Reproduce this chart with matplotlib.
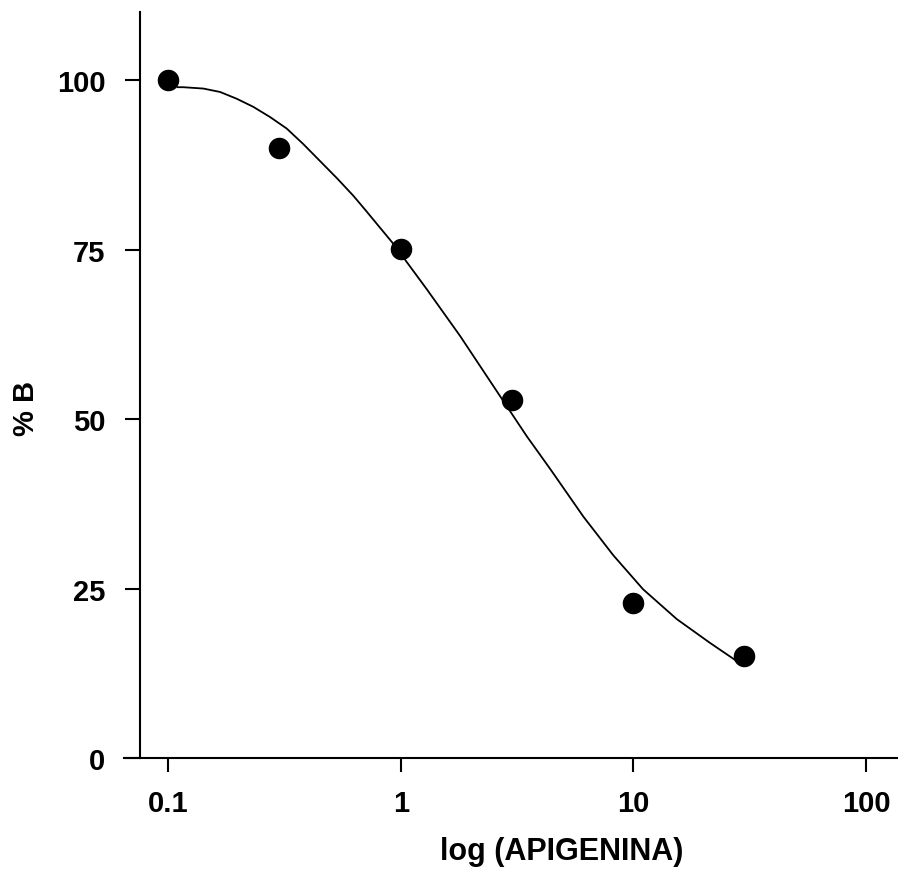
import matplotlib
matplotlib.use("Agg")
import matplotlib.pyplot as plt
from matplotlib.ticker import FixedLocator, FixedFormatter, NullLocator

# measured points
conc = [0.1, 0.3, 1, 3, 10, 30]
pct_b = [100.0, 90.0, 75.1, 52.9, 22.9, 15.0]

# fitted curve
curve_x = [0.110, 0.1164, 0.1419, 0.1673, 0.1973, 0.2326, 0.2744, 0.3236,
           0.3815, 0.450, 0.531, 0.625, 0.70, 0.929, 1.293, 1.798, 2.50,
           3.478, 4.4, 6.1, 8.2, 11.0, 15.35, 21.3, 27.8, 30.0]
curve_y = [99.0, 99.0, 98.8, 98.3, 97.3, 96.1, 94.6, 92.9,
           90.6, 88.1, 85.6, 83.0, 81.0, 75.9, 69.2, 62.3, 54.9,
           47.5, 42.6, 35.6, 29.9, 24.9, 20.5, 17.0, 14.3, 14.0]

xticks = [0.1, 1, 10, 100]
xtick_labels = ["0.1", "1", "10", "100"]
yticks = [0, 25, 50, 75, 100]
ytick_labels = ["0", "25", "50", "75", "100"]

plt.rcParams["font.family"] = ["Liberation Sans", "DejaVu Sans"]

fig = plt.figure(figsize=(8.98, 8.78), dpi=100)
ax = fig.add_axes([124 / 898, 119 / 878, 774 / 898, 746 / 878])

ax.plot(curve_x, curve_y, color="black", lw=1.3, zorder=2)
ax.plot(conc, pct_b, "o", color="black", ms=14.5, zorder=3)

ax.set_xscale("log")
ax.set_xlim(0.0647, 137)
ax.set_ylim(0, 110.1)

ax.spines["top"].set_visible(False)
ax.spines["right"].set_visible(False)
ax.spines["left"].set_position(("data", 0.0758))
for s in ("left", "bottom"):
    ax.spines[s].set_linewidth(1.5)

ax.xaxis.set_major_locator(FixedLocator(xticks))
ax.xaxis.set_major_formatter(FixedFormatter(xtick_labels))
ax.xaxis.set_minor_locator(NullLocator())
ax.yaxis.set_major_locator(FixedLocator(yticks))
ax.yaxis.set_major_formatter(FixedFormatter(ytick_labels))

ax.tick_params(axis="x", length=10, width=1.5, pad=12, labelsize=21)
ax.tick_params(axis="y", length=10.8, width=1.5, pad=14, labelsize=21)
for lab in ax.get_xticklabels() + ax.get_yticklabels():
    lab.set_fontweight("bold")

ax.set_xlabel("log (APIGENINA)", fontsize=22, fontweight="bold")
ax.xaxis.set_label_coords(0.566, -0.104)
ax.set_ylabel("% B", fontsize=21, fontweight="bold")
ax.yaxis.set_label_coords(-0.108, 0.47)

fig.savefig("out.png", dpi=100)
